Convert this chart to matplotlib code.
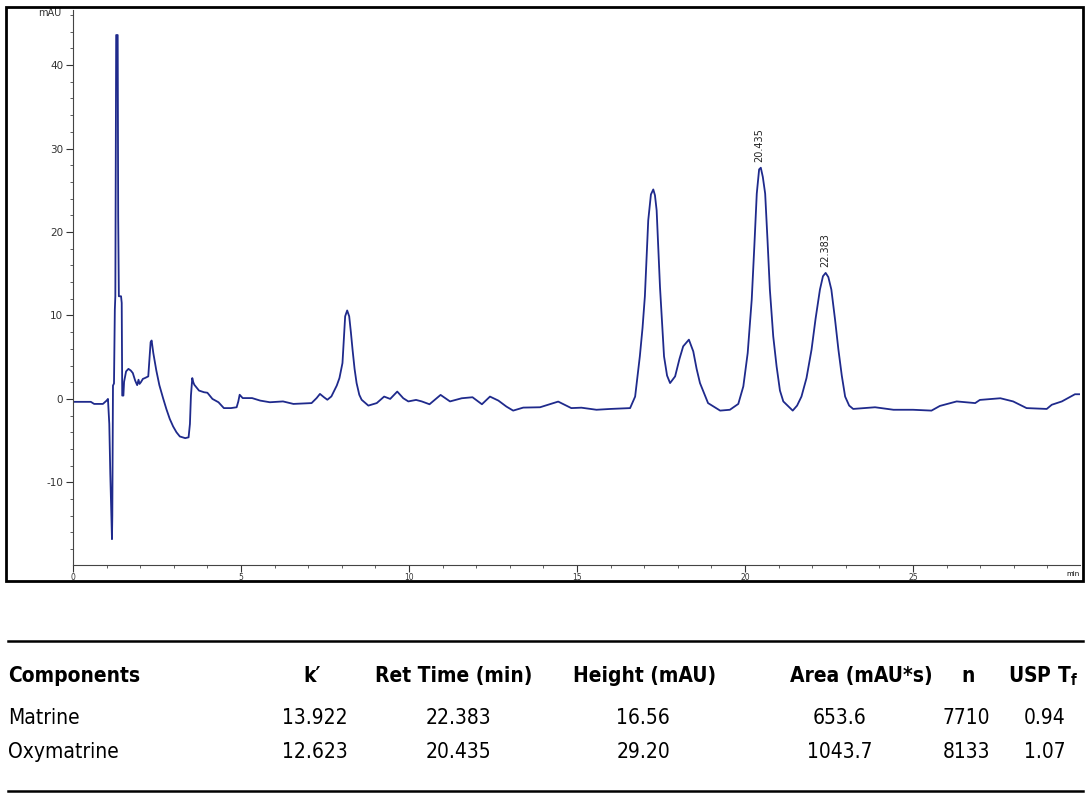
import matplotlib
matplotlib.use("Agg")
from matplotlib import pyplot as plt
from matplotlib.patches import Rectangle
from matplotlib.ticker import MultipleLocator

plt.rcParams["axes.unicode_minus"] = False

# chromatogram trace (time in min, signal in mAU)
time_min = [
    0.0, 0.3, 0.53, 0.63, 0.89, 1.0, 1.04, 1.08, 1.11, 1.14, 1.16, 1.17, 1.19, 1.22,
    1.245, 1.26, 1.285, 1.33, 1.345, 1.365, 1.43, 1.45, 1.465, 1.50, 1.52, 1.58, 1.65,
    1.72, 1.78, 1.85, 1.91, 1.95, 1.98, 2.02, 2.08, 2.14, 2.24, 2.27, 2.31, 2.34, 2.39,
    2.48, 2.57, 2.68, 2.78, 2.88, 2.98, 3.08, 3.18, 3.34, 3.44, 3.48, 3.51, 3.55, 3.58,
    3.61, 3.75, 3.9, 4.0, 4.15, 4.33, 4.49, 4.7, 4.87, 4.92, 4.96, 5.05, 5.33, 5.57,
    5.86, 6.25, 6.56, 7.10, 7.25, 7.35, 7.47, 7.57, 7.69, 7.85, 7.93, 8.02, 8.06, 8.10,
    8.16, 8.22, 8.27, 8.32, 8.38, 8.44, 8.52, 8.59, 8.79, 9.04, 9.26, 9.44, 9.65, 9.83,
    9.98, 10.21, 10.38, 10.61, 10.94, 11.22, 11.57, 11.89, 12.17, 12.41, 12.66, 12.9,
    13.10, 13.4, 13.9, 14.44, 14.83, 15.13, 15.58, 16.0, 16.58, 16.73, 16.87, 16.95,
    17.02, 17.12, 17.2, 17.27, 17.32, 17.37, 17.47, 17.59, 17.68, 17.77, 17.92, 18.05,
    18.16, 18.33, 18.46, 18.56, 18.66, 18.9, 19.26, 19.55, 19.8, 19.95, 20.08, 20.2,
    20.28, 20.35, 20.42, 20.47, 20.53, 20.6, 20.67, 20.74, 20.84, 20.94, 21.04, 21.14,
    21.42, 21.55, 21.68, 21.83, 21.98, 22.1, 22.23, 22.32, 22.40, 22.48, 22.57, 22.68,
    22.78, 22.88, 22.98, 23.1, 23.22, 23.87, 24.42, 25.0, 25.55, 25.8, 26.3, 26.85,
    26.99, 27.6, 27.98, 28.38, 28.98, 29.13, 29.43, 29.82, 29.97,
]
signal_mau = [
    -0.35, -0.35, -0.35, -0.6, -0.6, -0.2, 0.0, -3.0, -9.0, -13.5, -16.8, -14.0, 1.6, 1.85,
    10.7, 12.3, 43.6, 43.6, 21.8, 12.3, 12.3, 11.5, 0.4, 0.4, 2.05, 3.3, 3.6,
    3.4, 3.1, 2.2, 1.65, 2.3, 1.8, 2.0, 2.4, 2.5, 2.7, 4.5, 6.8, 7.0, 5.5,
    3.4, 1.65, 0.1, -1.23, -2.4, -3.3, -4.0, -4.5, -4.7, -4.6, -3.0, 0.4, 2.5, 2.0,
    1.7, 1.0, 0.8, 0.74, 0.0, -0.4, -1.1, -1.1, -1.0, -0.3, 0.5, 0.1, 0.1, -0.2,
    -0.4, -0.3, -0.6, -0.5, 0.1, 0.6, 0.2, -0.1, 0.3, 1.6, 2.5, 4.3, 7.0, 9.9,
    10.6, 9.9, 8.0, 5.9, 3.6, 1.9, 0.5, -0.1, -0.8, -0.5, 0.28, 0.0, 0.88, 0.08,
    -0.3, -0.12, -0.3, -0.64, 0.48, -0.3, 0.08, 0.2, -0.64, 0.28, -0.2, -0.92,
    -1.4, -1.04, -1.0, -0.32, -1.1, -1.05, -1.3, -1.2, -1.1, 0.28, 5.1, 8.5,
    12.3, 21.4, 24.5, 25.1, 24.4, 22.6, 13.4, 5.1, 2.8, 1.9, 2.7, 4.8,
    6.3, 7.1, 5.7, 3.6, 1.9, -0.5, -1.4, -1.3, -0.6, 1.5, 5.5, 11.9,
    18.5, 24.6, 27.5, 27.7, 26.6, 24.6, 19.0, 13.1, 7.5, 3.9, 1.0, -0.3,
    -1.4, -0.8, 0.28, 2.5, 5.9, 9.6, 13.1, 14.7, 15.1, 14.6, 13.1, 9.5,
    5.9, 2.8, 0.28, -0.8, -1.2, -1.0, -1.3, -1.3, -1.4, -0.84, -0.3, -0.5,
    -0.12, 0.08, -0.3, -1.1, -1.2, -0.7, -0.3, 0.56, 0.56,
]

# labelled peaks
peak_times = [20.435, 22.383]
peak_heights = [27.7, 15.1]
peak_labels = ["20.435", "22.383"]

# results table
table_header = ["Components", "k\u2032", "Ret Time (min)", "Height (mAU)", "Area (mAU*s)", "n", "USP T$_\\mathregular{f}$"]
components = ["Matrine", "Oxymatrine"]
k_prime = ["13.922", "12.623"]
ret_time = ["22.383", "20.435"]
height = ["16.56", "29.20"]
area = ["653.6", "1043.7"]
plates = ["7710", "8133"]
usp_tf = ["0.94", "1.07"]

W, H = 1087, 799
fig = plt.figure(figsize=(W / 100, H / 100), dpi=100)

# outer box around the chromatogram
fig.add_artist(Rectangle((6 / W, 1 - 581 / H), (1083 - 6) / W, (581 - 7) / H,
                         transform=fig.transFigure, fill=False, lw=2, ec="black"))

ax = fig.add_axes([73 / W, 1 - 565 / H, (1080 - 73) / W, (565 - 10) / H])
ax.plot(time_min, signal_mau, color="#1f2a8c", lw=1.3)
ax.set_xlim(0, 29.97)
ax.set_ylim(-19.9, 46.6)
for s in ["top", "right"]:
    ax.spines[s].set_visible(False)
ax.spines["left"].set_color("#444444")
ax.spines["bottom"].set_color("#444444")

ax.xaxis.set_major_locator(MultipleLocator(5))
ax.xaxis.set_minor_locator(MultipleLocator(1))
ax.yaxis.set_major_locator(MultipleLocator(10))
ax.yaxis.set_minor_locator(MultipleLocator(2))
ax.tick_params(axis="y", which="major", length=5, labelsize=7.5, pad=2, colors="#333333")
ax.tick_params(axis="y", which="minor", length=2.5, colors="#444444")
ax.tick_params(axis="x", which="major", length=5, labelsize=5.5, pad=1, colors="#333333")
ax.tick_params(axis="x", which="minor", length=2.5, colors="#444444")
ax.set_xticks([0, 5, 10, 15, 20, 25])
ax.text(-0.012, 0.995, "mAU", transform=ax.transAxes, ha="right", va="center",
        fontsize=7, color="#333333")
ax.text(0.993, -0.016, "min", transform=ax.transAxes, ha="center", va="center", fontsize=5)

for t, h, lab in zip(peak_times, peak_heights, peak_labels):
    ax.annotate(lab, (t, h), xytext=(0, 4), textcoords="offset points",
                rotation=90, ha="center", va="bottom", fontsize=7, color="#222222")

# table below the chart
fig.add_artist(plt.Line2D([8 / W, 1083 / W], [1 - 641 / H] * 2, color="black", lw=1.8))
fig.add_artist(plt.Line2D([8 / W, 1083 / W], [1 - 791 / H] * 2, color="black", lw=1.8))

tfont = dict(family="DejaVu Sans", fontstretch="condensed", fontsize=15)

header_x = [8, 312, 454, 645, 861, 968, 1043]
header_ha = ["left", "center", "center", "center", "center", "center", "center"]
for lab, x, ha in zip(table_header, header_x, header_ha):
    fig.text(x / W, 1 - 676 / H, lab, ha=ha, va="center", fontweight="bold", **tfont)

row_y = [718, 752]
cols = [(components, 8, "left"), (k_prime, 348, "right"), (ret_time, 458, "center"),
        (height, 643, "center"), (area, 840, "center"), (plates, 990, "right"),
        (usp_tf, 1045, "center")]
for vals, x, ha in cols:
    for v, y in zip(vals, row_y):
        fig.text(x / W, 1 - y / H, v, ha=ha, va="center", **tfont)

fig.savefig("out.png", dpi=100)
